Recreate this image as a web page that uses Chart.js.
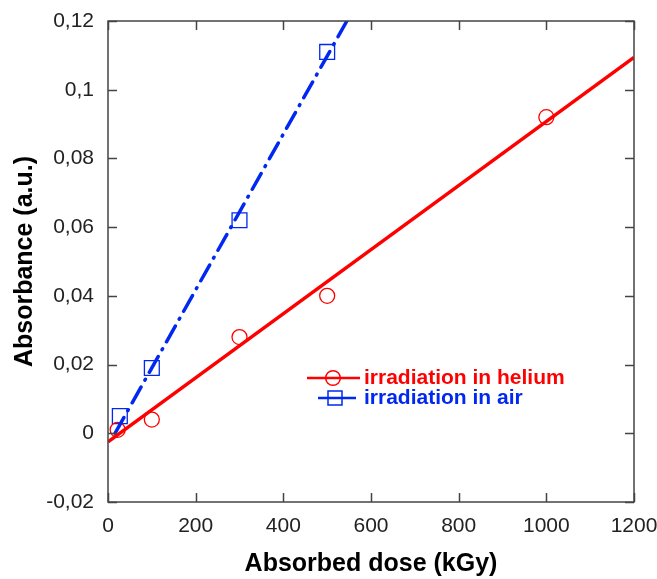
<!DOCTYPE html>
<html>
<head>
<meta charset="utf-8">
<script src="https://cdn.jsdelivr.net/npm/chart.js@4.4.0/dist/chart.umd.min.js"></script>
<style>
html,body{margin:0;padding:0;background:#fff;}
#wrap{width:657px;height:579px;}
</style>
</head>
<body>
<div id="wrap"><canvas id="c" width="657" height="579"></canvas></div>
<script>
// Data
const heliumDose = [22, 100, 300, 500, 1000];
const heliumAbs  = [0.001, 0.004, 0.028, 0.040, 0.092];
const airDose    = [27, 100, 300, 500];
const airAbs     = [0.005, 0.019, 0.062, 0.111];
// fitted lines (end points)
const heliumFitDose = [0, 1200];
const heliumFitAbs  = [-0.0025, 0.1094];
const airFitDose    = [16, 545];
const airFitAbs     = [0.0, 0.12];
// axes
const xTicks = [0, 200, 400, 600, 800, 1000, 1200];
const yTicks = [-0.02, 0, 0.02, 0.04, 0.06, 0.08, 0.1, 0.12];
const yTickLabels = ['-0,02', '0', '0,02', '0,04', '0,06', '0,08', '0,1', '0,12'];
const seriesNames = ['irradiation in helium', 'irradiation in air'];

const RED = 'rgb(255,0,0)';
const BLUE = 'rgb(0,40,240)';

const pts = (xs, ys) => xs.map((x, i) => ({x: x, y: ys[i]}));

const framePlugin = {
  id: 'frame',
  afterDatasetsDraw(chart) {
    const {ctx, chartArea: a, scales: {x, y}} = chart;
    ctx.save();
    ctx.strokeStyle = '#444';
    ctx.lineWidth = 1.5;
    ctx.strokeRect(a.left, a.top, a.right - a.left, a.bottom - a.top);
    const L = 9;
    ctx.beginPath();
    xTicks.forEach(v => {
      const px = Math.round(x.getPixelForValue(v)) + 0.5;
      ctx.moveTo(px, a.bottom); ctx.lineTo(px, a.bottom - L);
      ctx.moveTo(px, a.top); ctx.lineTo(px, a.top + L);
    });
    yTicks.forEach(v => {
      const py = Math.round(y.getPixelForValue(v)) + 0.5;
      ctx.moveTo(a.left, py); ctx.lineTo(a.left + L, py);
      ctx.moveTo(a.right, py); ctx.lineTo(a.right - L, py);
    });
    ctx.stroke();

    // legend inside the plot
    const items = [
      {name: seriesNames[0], color: RED, x0: 307, x1: 360, mx: 333, y: 378, style: 'circle'},
      {name: seriesNames[1], color: BLUE, x0: 318, x1: 356, mx: 335, y: 398, style: 'rect'}
    ];
    items.forEach(it => {
      ctx.strokeStyle = it.color;
      ctx.lineWidth = 2.5;
      ctx.beginPath();
      ctx.moveTo(it.x0, it.y); ctx.lineTo(it.x1, it.y);
      ctx.stroke();
      ctx.lineWidth = 1.5;
      ctx.beginPath();
      if (it.style === 'circle') {
        ctx.arc(it.mx, it.y, 7.3, 0, Math.PI * 2);
      } else {
        ctx.rect(it.mx - 7, it.y - 7, 14, 14);
      }
      ctx.stroke();
      ctx.fillStyle = it.color;
      ctx.font = 'bold 21px "Liberation Sans", Arial, sans-serif';
      ctx.textBaseline = 'middle';
      ctx.textAlign = 'left';
      ctx.fillText(it.name, 364, it.y);
    });
    ctx.restore();
  }
};

new Chart(document.getElementById('c'), {
  type: 'scatter',
  data: {
    datasets: [
      {
        label: 'helium fit', type: 'line', data: pts(heliumFitDose, heliumFitAbs),
        borderColor: RED, borderWidth: 3.5, pointRadius: 0, fill: false, order: 1
      },
      {
        label: seriesNames[0], data: pts(heliumDose, heliumAbs),
        pointStyle: 'circle', pointRadius: 7.5, borderColor: RED, borderWidth: 1.3,
        backgroundColor: 'rgba(0,0,0,0)', order: 2
      },
      {
        label: 'air fit', type: 'line', data: pts(airFitDose, airFitAbs),
        borderColor: BLUE, borderWidth: 3.5, borderDash: [18, 8, 1, 8], borderCapStyle: 'round',
        pointRadius: 0, fill: false, order: 1
      },
      {
        label: seriesNames[1], data: pts(airDose, airAbs),
        pointStyle: 'rect', pointRadius: 10.5, borderColor: BLUE, borderWidth: 1.3,
        backgroundColor: 'rgba(0,0,0,0)', order: 2
      }
    ]
  },
  options: {
    responsive: false,
    animation: false,
    layout: {padding: {top: 21, right: 23, left: 0, bottom: 0}},
    plugins: {legend: {display: false}, tooltip: {enabled: false}},
    scales: {
      x: {
        type: 'linear', min: 0, max: 1200,
        afterBuildTicks: s => { s.ticks = xTicks.map(v => ({value: v})); },
        afterFit: s => { s.height = 77; s.paddingLeft = 0; s.paddingRight = 0; },
        grid: {display: false, drawTicks: false},
        border: {display: false},
        ticks: {color: '#222', font: {family: 'Liberation Sans', size: 21}, padding: 12,
                callback: v => String(v)},
        title: {display: true, text: 'Absorbed dose (kGy)', color: '#000',
                font: {family: 'Liberation Sans', size: 25, weight: 'bold'}, padding: {top: 0, bottom: 0}}
      },
      y: {
        type: 'linear', min: -0.02, max: 0.12,
        afterBuildTicks: s => { s.ticks = yTicks.map(v => ({value: v})); },
        afterFit: s => { s.width = 108; s.paddingTop = 0; s.paddingBottom = 0; },
        grid: {display: false, drawTicks: false},
        border: {display: false},
        ticks: {color: '#222', font: {family: 'Liberation Sans', size: 21}, padding: 14,
                callback: (v) => { const i = yTicks.findIndex(t => Math.abs(t - v) < 1e-9); return i >= 0 ? yTickLabels[i] : ''; }},
        title: {display: true, text: 'Absorbance (a.u.)', color: '#000',
                font: {family: 'Liberation Sans', size: 25, weight: 'bold'}, padding: {top: 10, bottom: 0}}
      }
    }
  },
  plugins: [framePlugin]
});
</script>
</body>
</html>
